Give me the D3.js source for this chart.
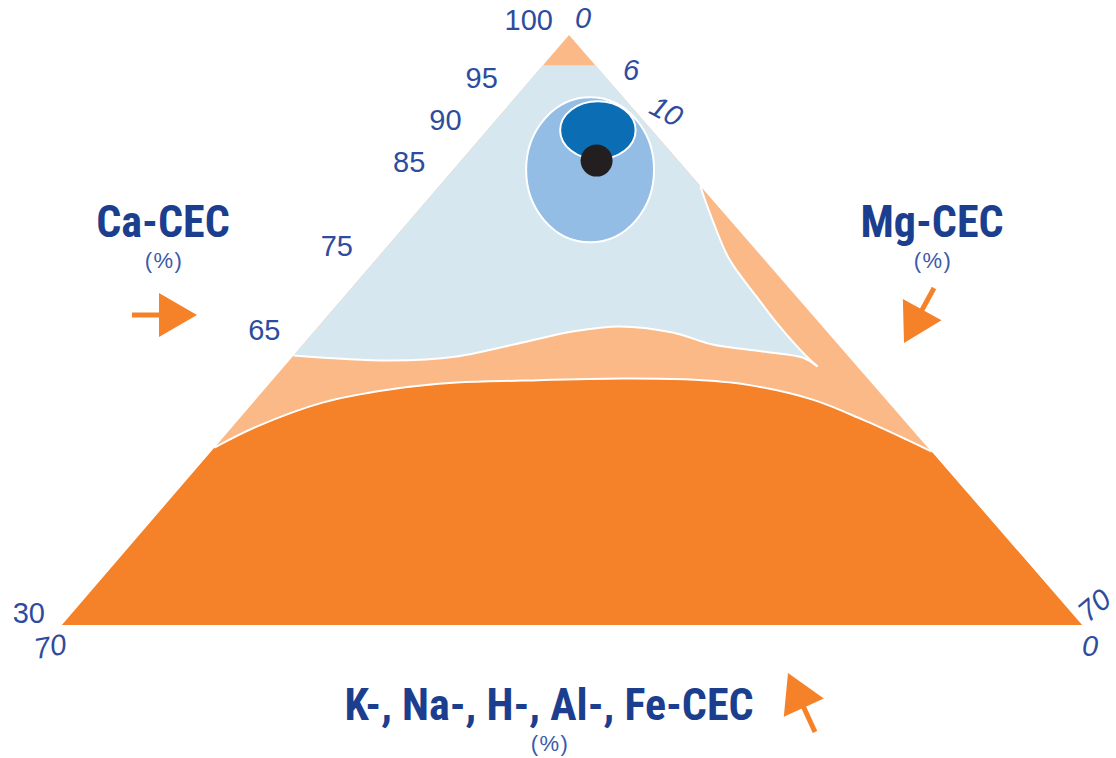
<!DOCTYPE html>
<html><head><meta charset="utf-8">
<script src="https://cdn.jsdelivr.net/npm/d3@7"></script>
<style>body{margin:0;background:#fff}</style>
</head><body><svg id="c" width="1116" height="758"></svg>
<script>
// ===== DATA (ternary: Ca-CEC %, Mg-CEC %; K/Na/H/Al/Fe = 100 - Ca - Mg) =====
const caTicks = [100, 95, 90, 85, 75, 65, 30];
const mgTicks = [0, 6, 10, 70];
const otherTicks = [70, 0];
const axisTitles = ["Ca-CEC", "Mg-CEC", "K-, Na-, H-, Al-, Fe-CEC"];
const unitLabel = "(%)";

// top of the light-blue (acceptable) field, Ca %
const blueTopCa = 96.4;
// right flank of the light-blue field, from the Mg edge down to its tip
const blueRightCa = [82.06, 78.13, 73.38, 68.98, 65.42, 61.85, 60.66];
const blueRightMg = [17.93, 20.70, 24.24, 28.28, 31.64, 35.27, 36.61];
// lower border of the light-blue field, from the tip back to the Ca edge
const blueLowCa = [60.66, 61.73, 62.45, 63.28, 64.70, 65.42, 64.82, 63.52, 61.85, 61.38, 61.97];
const blueLowMg = [36.61, 35.05, 31.95, 28.10, 24.65, 20.66, 17.73, 14.95, 11.25, 6.88, 0];
// upper border of the deficient (dark orange) field
const lowCa = [51.04, 53.53, 56.38, 57.93, 58.76, 59.00, 59.24, 59.12, 58.52, 56.74, 54.36, 51.99, 50.56];
const lowMg = [0, 1.66, 4.77, 8.60, 12.78, 17.20, 23.94, 28.60, 32.80, 38.22, 42.84, 47.04, 49.47];
// optimum zones: centre (Ca, Mg) and half extents (Ca, Mg)
const zoneCa = [84.0, 88.7];
const zoneMg = [9.4, 7.6];
const zoneHalfCa = [8.6, 3.45];
const zoneHalfMg = [4.39, 2.59];
// sample point
const sampleCa = [85.1];
const sampleMg = [9.3];

// ===== LAYOUT / STYLE =====
const svg = d3.select("#c");
const A = [569, 35], L = [62, 625], R = [1082, 625];
const caScale = d3.scaleLinear().domain([30, 100]).range([0, 1]);
const mgScale = d3.scaleLinear().domain([0, 70]).range([0, 1]);
function proj(ca, mg) {
  const wa = caScale(ca), wr = mgScale(mg), wl = 1 - wa - wr;
  return [A[0]*wa + L[0]*wl + R[0]*wr, A[1]*wa + L[1]*wl + R[1]*wr];
}
const C = {
  lightOrange: "#FAB986", orange: "#F58228", lightBlue: "#D7E7EF",
  midBlue: "#93BDE4", darkBlue: "#0B6EB5", dot: "#231F20",
  navy: "#1B3F8E", tick: "#2E4C9E"
};
const curve = d3.line().curve(d3.curveCatmullRom.alpha(0.5));
const zipPts = (cas, mgs) => cas.map((c, i) => proj(c, mgs[i]));
const cont = p => p.replace(/^M/, "L");

// base triangle
svg.append("path")
  .attr("d", "M" + proj(100, 0) + "L" + proj(30, 0) + "L" + proj(30, 70) + "Z")
  .attr("fill", C.lightOrange);

// light-blue field
const bR = zipPts(blueRightCa, blueRightMg), bL = zipPts(blueLowCa, blueLowMg);
const bluePath = "M" + proj(blueTopCa, 0) + "L" + proj(blueTopCa, 100 - blueTopCa) +
  cont(curve(bR)) + cont(curve(bL)) + "Z";
svg.append("path").attr("d", bluePath).attr("fill", C.lightBlue);

// dark orange field
const lo = zipPts(lowCa, lowMg);
svg.append("path")
  .attr("d", curve(lo) + "L" + proj(30, 70) + "L" + proj(30, 0) + "Z")
  .attr("fill", C.orange);

// white borders between fields
[bR, bL, lo].forEach(p => svg.append("path").attr("d", curve(p))
  .attr("fill", "none").attr("stroke", "#fff").attr("stroke-width", 2));

// optimum zones
const zoneFill = [C.midBlue, C.darkBlue];
zoneCa.forEach((ca, i) => {
  const c = proj(ca, zoneMg[i]);
  const rx = proj(ca, zoneMg[i] + zoneHalfMg[i])[0] - c[0];
  const ry = c[1] - proj(ca + zoneHalfCa[i], zoneMg[i])[1];
  svg.append("ellipse").attr("cx", c[0]).attr("cy", c[1]).attr("rx", rx).attr("ry", ry)
    .attr("fill", zoneFill[i]).attr("stroke", "#fff").attr("stroke-width", 2);
});
sampleCa.forEach((ca, i) => {
  const c = proj(ca, sampleMg[i]);
  svg.append("circle").attr("cx", c[0]).attr("cy", c[1]).attr("r", 16).attr("fill", C.dot);
});

// tick labels
const tickFont = "'Liberation Sans', Arial, sans-serif";
const tickSize = 29;
caTicks.forEach(v => {
  const p = proj(v, 0);
  let dx = -35, dy = 0;
  if (v === 30) { dx = -17; dy = -12; }
  if (v === 100) { dx = -16; dy = -15; }
  svg.append("text").attr("x", p[0] + dx).attr("y", p[1] + dy)
    .attr("dy", "0.36em").attr("text-anchor", "end")
    .attr("font-family", tickFont).attr("font-size", tickSize).attr("fill", C.tick).text(v);
});
const mgRot = {0: 0, 6: 0, 10: 28, 70: -40};
mgTicks.forEach(v => {
  const p = proj(100 - v, v);
  let dx = 10, dy = -16, anchor = "start";
  if (v === 0) { dx = 6; dy = -17; }
  if (v === 70) { dx = 12; dy = -20; anchor = "middle"; }
  svg.append("text").attr("transform", `translate(${p[0] + dx},${p[1] + dy}) rotate(${mgRot[v] || 0})`)
    .attr("dy", "0.36em").attr("text-anchor", anchor)
    .attr("font-family", tickFont).attr("font-style", "italic").attr("font-size", tickSize)
    .attr("fill", C.tick).text(v);
});
otherTicks.forEach(v => {
  const p = proj(30, 70 - v);
  const x = p[0] + (v > 35 ? -12 : 8), y = p[1] + 21;
  svg.append("text").attr("transform", `translate(${x},${y}) rotate(${v > 35 ? -10 : 0})`)
    .attr("dy", "0.36em").attr("text-anchor", "middle")
    .attr("font-family", tickFont).attr("font-style", "italic").attr("font-size", tickSize)
    .attr("fill", C.tick).text(v);
});

// axis titles
const titleFont = "'Liberation Sans Narrow', 'Arial Narrow', 'Roboto Condensed', sans-serif";
const titlePos = [[163, 237], [932, 237], [549, 720]];
axisTitles.forEach((t, i) => {
  svg.append("text").attr("x", titlePos[i][0]).attr("y", titlePos[i][1])
    .attr("text-anchor", "middle").attr("font-family", titleFont).attr("font-weight", "bold")
    .attr("font-size", 44).attr("fill", C.navy).text(t);
  svg.append("text").attr("x", titlePos[i][0] + 1).attr("y", titlePos[i][1] + 31)
    .attr("text-anchor", "middle").attr("font-family", tickFont).attr("letter-spacing", 1.5)
    .attr("font-size", 22).attr("fill", "#3A5AAA").text(unitLabel);
});

// direction arrows
function arrow(t, tip) {
  const dx = tip[0] - t[0], dy = tip[1] - t[1], len = Math.hypot(dx, dy);
  const ux = dx / len, uy = dy / len, hl = 38, hw = 22;
  const b = [tip[0] - ux*hl, tip[1] - uy*hl];
  svg.append("line").attr("x1", t[0]).attr("y1", t[1]).attr("x2", b[0] + ux*2).attr("y2", b[1] + uy*2)
    .attr("stroke", C.orange).attr("stroke-width", 5);
  svg.append("path").attr("d", "M" + tip + "L" + [b[0] - uy*hw, b[1] + ux*hw] + "L" + [b[0] + uy*hw, b[1] - ux*hw] + "Z")
    .attr("fill", C.orange);
}
arrow([132, 315], [197, 315]);
arrow([934, 288], [904, 343]);
arrow([815, 732], [788, 673]);
</script></body></html>
